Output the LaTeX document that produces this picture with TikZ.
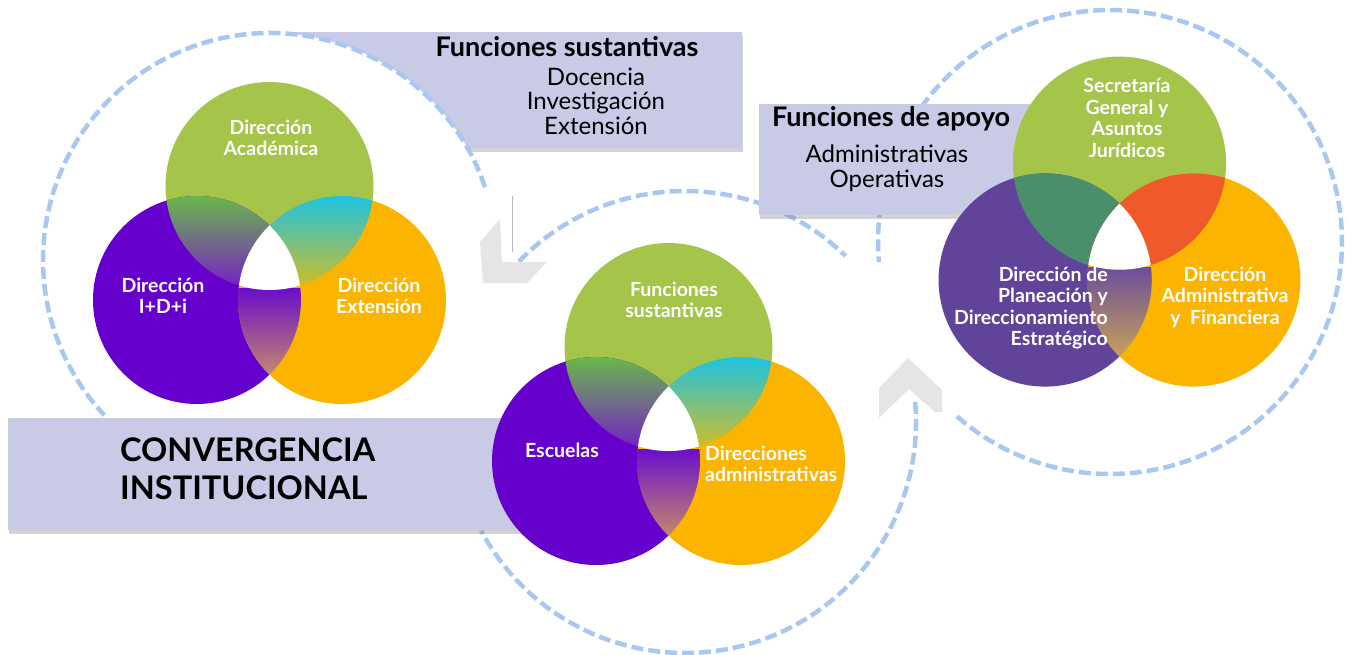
\documentclass[tikz,border=0pt]{standalone}
\usepackage{fontspec}
\setmainfont{Lato}
\usetikzlibrary{calc,shadows}
\definecolor{vgreen}{RGB}{165,196,74}
\definecolor{vpurple}{RGB}{102,0,204}
\definecolor{vorange}{RGB}{251,181,0}
\definecolor{rpurple}{RGB}{97,67,153}
\definecolor{lavbox}{RGB}{200,202,230}
\definecolor{ringblue}{RGB}{168,200,242}
\definecolor{chevgray}{RGB}{229,229,229}
\definecolor{gptop}{RGB}{106,184,74}
\definecolor{gpbot}{RGB}{118,26,200}
\definecolor{gotop}{RGB}{30,195,226}
\definecolor{gobot}{RGB}{214,189,32}
\definecolor{potop}{RGB}{106,14,204}
\definecolor{pobot}{RGB}{196,138,106}
\definecolor{rgp}{RGB}{74,142,108}
\definecolor{rgo}{RGB}{240,90,43}
\definecolor{rpotop}{RGB}{108,78,152}
\definecolor{rpobot}{RGB}{201,162,90}
\tikzset{
  ring/.style={draw=ringblue, line width=4.5pt, dash pattern=on 12pt off 5pt},
  infobox/.style={fill=lavbox, drop shadow={shadow xshift=1pt, shadow yshift=-4pt, opacity=0.35}},
  chevron/.style={fill=chevgray, draw=none},
  vlabel/.style={text=white, font=\bfseries\fontsize{19.5}{21.5}\selectfont, align=center, inner sep=0pt},
  boxtitle/.style={font=\bfseries\fontsize{27}{28}\selectfont, inner sep=0pt},
  boxlist/.style={font=\fontsize{24}{24.5}\selectfont, align=center, inner sep=0pt},
}
% lens of two circles, shaded from top to bottom
\newcommand{\lens}[6]{%
  \begin{scope}
    \clip (#1) circle[radius=104];
    \clip (#2) circle[radius=104];
    \shade[top color=#3, bottom color=#4] #5 rectangle #6;
  \end{scope}}

\begin{document}
\begin{tikzpicture}[x=1pt, y=-1pt]
\useasboundingbox (0,0) rectangle (1356,654);

% rings behind the boxes
\draw[ring] (685,422) ++(-136:231) arc[start angle=-136, end angle=-46, radius=231];
\draw[ring] (685,422) ++(-5:231) arc[start angle=-5, end angle=152, radius=231];
\draw[ring] (1110,242) ++(131.3:232) arc[start angle=131.3, end angle=-185, radius=232];

% box of the sustantive functions, cut by the left ring
\fill[infobox] (290,32) rectangle (742,148);
\fill[white] (270,260) circle[radius=227];
\draw[ring] (270,260) ++(-18.7:227) arc[start angle=-18.7, end angle=-223.1, radius=227];

% box of the support functions
\fill[infobox] (759,104) rectangle (1030,215);

% chevrons
\fill[chevron] (480,242) -- (483,283) -- (527,283) -- (547,262) -- (502,262) -- (500,219) -- cycle;
\fill[chevron] (908,358) -- (879,388) -- (879,418) -- (909,389) -- (935,412) -- (942,412) -- (942,390) -- cycle;
\draw[gray!55, line width=0.7pt] (512,196) -- (512,252);

% convergence box
\fill[infobox] (8,418) rectangle (560,530);

% left Venn
\begin{scope}[shift={(269.5,300)}]
  \coordinate (lvP) at (-72.5,0);
  \coordinate (lvO) at (72.5,0);
  \coordinate (lvG) at (0,-114);
  \fill[vgreen] (lvG) circle[radius=104];
  \fill[vpurple] (lvP) circle[radius=104];
  \fill[vorange] (lvO) circle[radius=104];
  \lens{lvG}{lvP}{gptop}{gpbot}{(-180,-104)}{(35,-10)}
  \lens{lvG}{lvO}{gotop}{gobot}{(-35,-104)}{(180,-10)}
  \lens{lvP}{lvO}{potop}{pobot}{(-35,-12)}{(35,76)}
  \begin{scope}
    \clip (lvP) circle[radius=104];
    \clip (lvO) circle[radius=104];
    \fill[white] (lvG) circle[radius=104];
  \end{scope}
\end{scope}

% middle Venn
\begin{scope}[shift={(668.5,461)}]
  \coordinate (mvP) at (-72.5,0);
  \coordinate (mvO) at (72.5,0);
  \coordinate (mvG) at (0,-114);
  \fill[vgreen] (mvG) circle[radius=104];
  \fill[vpurple] (mvP) circle[radius=104];
  \fill[vorange] (mvO) circle[radius=104];
  \lens{mvG}{mvP}{gptop}{gpbot}{(-180,-104)}{(35,-10)}
  \lens{mvG}{mvO}{gotop}{gobot}{(-35,-104)}{(180,-10)}
  \lens{mvP}{mvO}{potop}{pobot}{(-35,-12)}{(35,76)}
  \begin{scope}
    \clip (mvP) circle[radius=104];
    \clip (mvO) circle[radius=104];
    \fill[white] (mvG) circle[radius=104];
  \end{scope}
\end{scope}

% right Venn
\begin{scope}[shift={(1119.5,280)}, scale=1.025]
  \coordinate (rvP) at (-72.5,0);
  \coordinate (rvO) at (72.5,0);
  \coordinate (rvG) at (0,-114);
  \fill[vgreen] (rvG) circle[radius=104];
  \fill[rpurple] (rvP) circle[radius=104];
  \fill[vorange] (rvO) circle[radius=104];
  \lens{rvG}{rvP}{rgp}{rgp}{(-180,-104)}{(35,-10)}
  \lens{rvG}{rvO}{rgo}{rgo}{(-35,-104)}{(180,-10)}
  \lens{rvP}{rvO}{rpotop}{rpobot}{(-35,-12)}{(35,76)}
  \begin{scope}
    \clip (rvP) circle[radius=104];
    \clip (rvO) circle[radius=104];
    \fill[white] (rvG) circle[radius=104];
  \end{scope}
\end{scope}

% box texts
\node[boxtitle] (tsust) at (567,47) {Funciones sustantivas};
\node[boxlist] (lsust) at (596,101) {Docencia\\Investigación\\Extensión};
\node[boxtitle] (tapoyo) at (891,119) {Funciones de apoyo};
\node[boxlist] (lapoyo) at (887,168) {Administrativas\\Operativas};
\node[font=\bfseries\fontsize{32.5}{38}\selectfont, align=left, anchor=west, inner sep=0pt] (tconv) at (120,469) {CONVERGENCIA\\INSTITUCIONAL};

% Venn labels
\node[vlabel] (lacad) at (271,138) {Dirección\\Académica};
\node[vlabel] (lidi) at (163,296) {Dirección\\I+D+i};
\node[vlabel] (lext) at (379,296) {Dirección\\Extensión};
\node[vlabel] (mfun) at (674,300) {Funciones\\sustantivas};
\node[vlabel] (mesc) at (562,450) {Escuelas};
\node[vlabel, align=left, anchor=west] (mdir) at (705,464) {Direcciones\\administrativas};
\node[vlabel] (rsec) at (1127,118) {Secretaría\\General y\\Asuntos\\Jurídicos};
\node[vlabel, align=right, anchor=east] (rplan) at (1108,308) {Dirección de\\Planeación y\\Direccionamiento\\Estratégico};
\node[vlabel] (radm) at (1225,297) {Dirección\\Administrativa\\y~~Financiera};

\end{tikzpicture}
\end{document}
